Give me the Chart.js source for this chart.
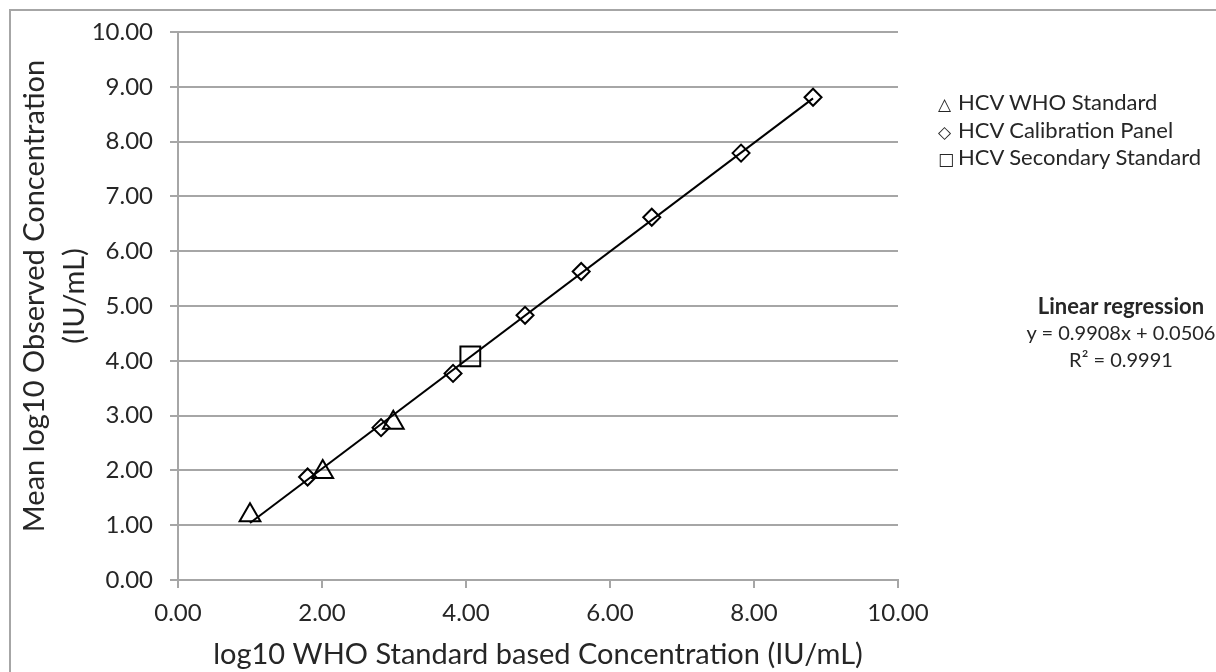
<!DOCTYPE html>
<html>
<head>
<meta charset="utf-8">
<script src="https://cdn.jsdelivr.net/npm/chart.js@4"></script>
<style>
  body { margin: 0; background: #fff; }
  #wrap { position: relative; width: 1216px; height: 672px; overflow: hidden; font-family: Lato, "DejaVu Sans", sans-serif; color: #262626; }
  #frame { position: absolute; left: 9px; top: 9px; width: 1300px; height: 800px; border-left: 2px solid #a6a6a6; border-top: 2px solid #a6a6a6; }
  #legend { position: absolute; left: 938px; top: 88px; font-size: 22px; }
  #legend div { height: 27.5px; line-height: 27.5px; white-space: nowrap; }
  #legend .sym { display: inline-block; width: 20px; font-family: "DejaVu Sans", sans-serif; font-size: 17px; }
  #reg { position: absolute; left: 1026px; width: 190px; top: 292px; text-align: center; white-space: nowrap; }
  #reg div { height: 27px; line-height: 27px; }
  #reg .h { font-weight: 700; font-size: 22px; }
  #reg .e { font-size: 20px; }
</style>
</head>
<body>
<div id="wrap">
  <div id="frame"></div>
  <canvas id="myChart" width="1216" height="672"></canvas>
  <div id="legend"></div>
  <div id="reg">
    <div class="h">Linear regression</div>
    <div class="e">y = 0.9908x + 0.0506</div>
    <div class="e">R² = 0.9991</div>
  </div>
</div>
<script>
// data
const seriesNames = ['HCV WHO Standard', 'HCV Calibration Panel', 'HCV Secondary Standard'];
const whoX = [1.00, 2.01, 2.99];
const whoY = [1.18, 1.97, 2.87];
const calX = [1.80, 2.82, 3.82, 4.82, 5.60, 6.58, 7.82, 8.82];
const calY = [1.88, 2.78, 3.77, 4.83, 5.63, 6.62, 7.79, 8.81];
const secX = [4.06];
const secY = [4.08];
const slope = 0.9908;
const intercept = 0.0506;
const yTicks = [0, 1, 2, 3, 4, 5, 6, 7, 8, 9, 10];
const xTicks = [0, 2, 4, 6, 8, 10];

const toPts = (xs, ys) => xs.map((x, i) => ({ x: x, y: ys[i] }))

// trend line over the data range
const allX = whoX.concat(calX, secX)
const xMin = Math.min(...allX)
const xMax = Math.max(...allX)
const trend = [xMin, xMax].map(x => ({ x: x, y: slope * x + intercept }))

const grey = '#a6a6a6'
const ink = '#262626'

// legend (html)
const syms = ['△', '◇', '□']
document.getElementById('legend').innerHTML = seriesNames
  .map((n, i) => `<div><span class="sym">${syms[i]}</span>${n}</div>`).join('')

const yTitle = {
  id: 'yTitle',
  afterDraw(chart) {
    const c = chart.ctx
    const a = chart.chartArea
    c.save()
    c.translate(55, a.top + (a.bottom - a.top) / 2 - 10)
    c.rotate(-Math.PI / 2)
    c.fillStyle = ink
    c.font = '29px Lato'
    c.textAlign = 'center'
    c.textBaseline = 'middle'
    c.fillText('Mean log10 Observed Concentration', 0, -20)
    c.fillText('(IU/mL)', 0, 20)
    c.restore()
  }
}

const ctx = document.getElementById('myChart');

new Chart(ctx, {
  type: 'scatter',
  data: {
    datasets: [
      {
        label: 'trend',
        data: trend,
        showLine: true,
        borderColor: '#000',
        borderWidth: 2,
        pointRadius: 0
      },
      {
        label: seriesNames[0],
        data: toPts(whoX, whoY),
        pointStyle: 'triangle',
        pointRadius: 12,
        borderColor: '#000',
        backgroundColor: 'rgba(0,0,0,0)',
        borderWidth: 2
      },
      {
        label: seriesNames[1],
        data: toPts(calX, calY),
        pointStyle: 'rectRot',
        pointRadius: 8.5,
        borderColor: '#000',
        backgroundColor: 'rgba(0,0,0,0)',
        borderWidth: 2
      },
      {
        label: seriesNames[2],
        data: toPts(secX, secY),
        pointStyle: 'rect',
        pointRadius: 14,
        borderColor: '#000',
        backgroundColor: 'rgba(0,0,0,0)',
        borderWidth: 2
      }
    ]
  },
  options: {
    responsive: false,
    animation: false,
    layout: { padding: { left: 0, right: 318, top: 32, bottom: 0 } },
    plugins: {
      legend: { display: false },
      tooltip: { enabled: false }
    },
    scales: {
      x: {
        type: 'linear',
        min: 0,
        max: 10,
        afterBuildTicks: s => { s.ticks = xTicks.map(v => ({ value: v })) },
        afterFit: s => { s.height = 92 },
        grid: { drawOnChartArea: false, color: grey, lineWidth: 2, tickLength: 8 },
        border: { color: grey, width: 2 },
        ticks: {
          color: ink,
          font: { family: 'Lato', size: 24 },
          padding: 11,
          callback: v => v.toFixed(2)
        },
        title: {
          display: true,
          text: 'log10 WHO Standard based Concentration (IU/mL)',
          color: ink,
          font: { family: 'Lato', size: 29 },
          padding: { top: 0, bottom: 0 }
        }
      },
      y: {
        type: 'linear',
        min: 0,
        max: 10,
        afterBuildTicks: s => { s.ticks = yTicks.map(v => ({ value: v })) },
        afterFit: s => { s.width = 178 },
        grid: { color: grey, lineWidth: 2, tickLength: 8 },
        border: { color: grey, width: 2 },
        ticks: {
          color: ink,
          font: { family: 'Lato', size: 24 },
          padding: 17,
          callback: v => v.toFixed(2)
        }
      }
    }
  },
  plugins: [yTitle]
});
</script>
</body>
</html>
